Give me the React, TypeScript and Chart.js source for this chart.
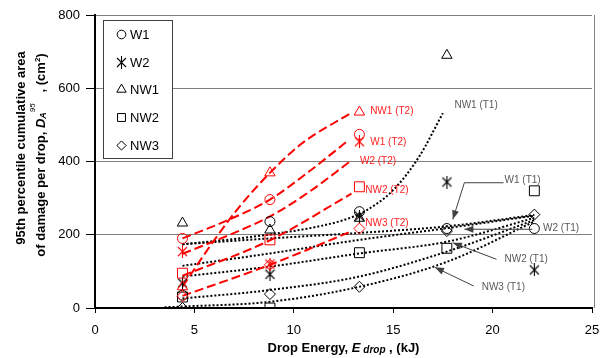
import React, { useEffect, useRef } from 'react';
import { Chart, registerables } from 'chart.js';
import { drawPoint } from 'chart.js/helpers';

Chart.register(...registerables);

const FONT = "'Liberation Sans', Arial, Helvetica, sans-serif";

// Drop energies (kJ)
const energyT1 = [4.4, 8.8, 13.3, 17.7, 22.1];
const energyT2 = [4.4, 8.8, 13.3];

// Measured values, T1 (black markers), cm²
const w1T1 = [35, 236, 263, 217, 217];
const w2T1 = [68, 92, 251, 344, 104];
const nw1T1: (number | null)[] = [232, 213, 245, 690, null];
const nw2T1 = [30, 0, 151, 163, 320];
const nw3T1 = [0, 38, 58, 210, 255];

// Measured values, T2 (red markers), cm²
const w1T2 = [190, 296, 474];
const w2T2 = [154, 120, 454];
const nw1T2 = [58, 369, 535];
const nw2T2 = [95, 186, 331];
const nw3T2 = [32, 118, 217];

// Trend curves, T1 (black dotted)
const curveNW1T1X = [4.4, 6.6, 9.2, 11, 12.5, 13.5, 15, 16.3, 17.5];
const curveNW1T1Y = [174, 186, 204, 220, 240, 262, 322, 413, 532];
const curveAX = [4.4, 8.8, 13.3, 17.7, 22.1];
const curveAY = [174, 190, 205, 223, 254];
const curveBX = [4.4, 8.8, 13.3, 17.7, 22.1];
const curveBY = [115, 149, 186, 218, 252];
const curveCX = [4.4, 8.8, 13.3, 17.7, 22.1];
const curveCY = [86, 113, 149, 181, 246];
const curveDX = [4.4, 8.8, 13.3, 17.7, 22.1];
const curveDY = [26, 49, 86, 154, 240];
const curveEX = [3.5, 4.4, 8.8, 13.3, 17.7, 22.1];
const curveEY = [2, 4, 17, 58, 126, 236];

// Trend curves, T2 (red dashed)
const curveNW1T2X = [4.4, 5.8, 7.2, 8.8, 10.4, 12.8];
const curveNW1T2Y = [58, 170, 272, 369, 449, 530];
const curveW1T2X = [4.4, 6.6, 8.8, 10.75, 12.75];
const curveW1T2Y = [190, 238, 296, 372, 458];
const curveW2T2X = [4.4, 6.6, 8.8, 10.8, 12.8];
const curveW2T2Y = [148, 196, 250, 318, 399];
const curveNW2T2X = [4.4, 8.8, 12.9];
const curveNW2T2Y = [88, 185, 312];
const curveNW3T2X = [4.4, 8.8, 12.85];
const curveNW3T2Y = [33, 118, 208];

// Curve labels (data coordinates)
const labelsT2 = ['NW1 (T2)', 'W1 (T2)', 'W2 (T2)', 'NW2 (T2)', 'NW3 (T2)'];
const labelsT2X = [13.84, 13.85, 13.33, 13.6, 13.6];
const labelsT2Y = [537, 453, 402, 322, 232];
const labelsT1 = ['NW1 (T1)', 'W1 (T1)', 'W2 (T1)', 'NW2 (T1)', 'NW3 (T1)'];
const labelsT1X = [18.08, 20.6, 22.54, 20.6, 19.45];
const labelsT1Y = [554, 349, 219, 134, 58];

// Arrow paths (data coordinates), last point = arrow tip
const arrowW1 = [[20.55, 342], [18.58, 342], [18.0, 242]];
const arrowW2 = [[22.0, 215], [18.58, 215]];
const arrowNW2 = [[20.2, 133], [18.0, 178]];
const arrowNW3 = [[19.05, 60], [17.1, 111]];

const legendLabels = ['W1', 'W2', 'NW1', 'NW2', 'NW3'];

function makeStar(color: string) {
  const c = document.createElement('canvas');
  c.width = 13;
  c.height = 13;
  const g = c.getContext('2d')!;
  g.strokeStyle = color;
  g.lineWidth = 1.1;
  g.beginPath();
  g.moveTo(6.5, 0);
  g.lineTo(6.5, 13);
  g.moveTo(2, 2);
  g.lineTo(11, 11);
  g.moveTo(11, 2);
  g.lineTo(2, 11);
  g.stroke();
  return c;
}

type Seg = { t: string; font: string; dy?: number };

function drawRich(ctx: CanvasRenderingContext2D, segs: Seg[], cx: number, baseline: number) {
  let total = 0;
  const widths = segs.map((s) => {
    ctx.font = s.font;
    const w = ctx.measureText(s.t).width;
    total += w;
    return w;
  });
  let x = cx - total / 2;
  segs.forEach((s, i) => {
    ctx.font = s.font;
    ctx.fillText(s.t, x, baseline + (s.dy || 0));
    x += widths[i];
  });
}

export default function App() {
  const ref = useRef<HTMLCanvasElement>(null);

  useEffect(() => {
    const canvas = ref.current!;
    const starBlack = makeStar('#000000');
    const starRed = makeStar('#ff0000');

    const pts = (xs: number[], ys: (number | null)[]) =>
      xs.map((x, i) => ({ x, y: ys[i] })).filter((p) => p.y !== null);

    const marker = (label: string, xs: number[], ys: (number | null)[], color: string, style: any, radius: number) => ({
      label,
      data: pts(xs, ys),
      showLine: false,
      pointStyle: style,
      pointRadius: radius,
      pointHoverRadius: radius,
      pointBorderColor: color,
      pointBackgroundColor: 'rgba(0,0,0,0)',
      pointBorderWidth: 1,
      borderColor: color,
      backgroundColor: 'rgba(0,0,0,0)',
    });

    const curve = (label: string, xs: number[], ys: number[], color: string, dash: number[]) => ({
      label,
      data: pts(xs, ys),
      showLine: true,
      pointRadius: 0,
      pointHoverRadius: 0,
      borderColor: color,
      borderWidth: 2,
      borderDash: dash,
      cubicInterpolationMode: 'monotone',
      fill: false,
    });

    const RED = '#ff0000';
    const BLK = '#000000';
    const DOT = [2, 2];
    const DASH = [9, 4];

    const datasets: any[] = [
      marker('W1 (T2)', energyT2, w1T2, RED, 'circle', 5),
      marker('W2 (T2)', energyT2, w2T2, RED, starRed, 6),
      marker('NW1 (T2)', energyT2, nw1T2, RED, 'triangle', 6),
      marker('NW2 (T2)', energyT2, nw2T2, RED, 'rect', 7),
      marker('NW3 (T2)', energyT2, nw3T2, RED, 'rectRot', 5.5),
      marker('W1', energyT1, w1T1, BLK, 'circle', 5),
      marker('W2', energyT1, w2T1, BLK, starBlack, 6),
      marker('NW1', energyT1, nw1T1, BLK, 'triangle', 6),
      marker('NW2', energyT1, nw2T1, BLK, 'rect', 7),
      marker('NW3', energyT1, nw3T1, BLK, 'rectRot', 5.5),
      curve('NW1 (T2) fit', curveNW1T2X, curveNW1T2Y, RED, DASH),
      curve('W1 (T2) fit', curveW1T2X, curveW1T2Y, RED, DASH),
      curve('W2 (T2) fit', curveW2T2X, curveW2T2Y, RED, DASH),
      curve('NW2 (T2) fit', curveNW2T2X, curveNW2T2Y, RED, DASH),
      curve('NW3 (T2) fit', curveNW3T2X, curveNW3T2Y, RED, DASH),
      curve('NW1 (T1) fit', curveNW1T1X, curveNW1T1Y, BLK, DOT),
      curve('T1 fit A', curveAX, curveAY, BLK, DOT),
      curve('T1 fit B', curveBX, curveBY, BLK, DOT),
      curve('T1 fit C', curveCX, curveCY, BLK, DOT),
      curve('T1 fit D', curveDX, curveDY, BLK, DOT),
      curve('T1 fit E', curveEX, curveEY, BLK, DOT),
    ];

    const legendStyles: any[] = [
      { style: 'circle', r: 4.3 },
      { style: starBlack, r: 5 },
      { style: 'triangle', r: 5.4 },
      { style: 'rect', r: 5.6 },
      { style: 'rectRot', r: 4.6 },
    ];

    const overlay = {
      id: 'overlay',
      afterDraw(chart: any) {
        const ctx: CanvasRenderingContext2D = chart.ctx;
        const { left, right, top, bottom } = chart.chartArea;
        const xs = chart.scales.x;
        const ys = chart.scales.y;
        const X = (v: number) => xs.getPixelForValue(v);
        const Y = (v: number) => ys.getPixelForValue(v);
        ctx.save();

        // right frame line
        ctx.strokeStyle = '#808080';
        ctx.lineWidth = 1;
        ctx.beginPath();
        ctx.moveTo(Math.round(right) + 2.5, top);
        ctx.lineTo(Math.round(right) + 2.5, bottom);
        ctx.stroke();

        // curve labels
        ctx.textBaseline = 'middle';
        ctx.textAlign = 'left';
        ctx.font = `10px ${FONT}`;
        ctx.fillStyle = '#ff2020';
        labelsT2.forEach((t, i) => ctx.fillText(t, X(labelsT2X[i]), Y(labelsT2Y[i])));
        ctx.fillStyle = '#595959';
        labelsT1.forEach((t, i) => ctx.fillText(t, X(labelsT1X[i]), Y(labelsT1Y[i])));

        // arrows
        const drawArrow = (path: number[][]) => {
          const p = path.map(([a, b]) => [X(a), Y(b)]);
          ctx.strokeStyle = '#404040';
          ctx.fillStyle = '#404040';
          ctx.lineWidth = 1;
          ctx.beginPath();
          ctx.moveTo(p[0][0], p[0][1]);
          for (let i = 1; i < p.length; i++) ctx.lineTo(p[i][0], p[i][1]);
          ctx.stroke();
          const [tx, ty] = p[p.length - 1];
          const [sx, sy] = p[p.length - 2];
          const ang = Math.atan2(ty - sy, tx - sx);
          const L = 9;
          const W = 3.5;
          ctx.beginPath();
          ctx.moveTo(tx, ty);
          ctx.lineTo(tx - L * Math.cos(ang) + W * Math.sin(ang), ty - L * Math.sin(ang) - W * Math.cos(ang));
          ctx.lineTo(tx - L * Math.cos(ang) - W * Math.sin(ang), ty - L * Math.sin(ang) + W * Math.cos(ang));
          ctx.closePath();
          ctx.fill();
        };
        [arrowW1, arrowW2, arrowNW2, arrowNW3].forEach(drawArrow);

        // legend box
        const bx = left + 8;
        const by = top + 5;
        ctx.fillStyle = '#ffffff';
        ctx.fillRect(bx, by, 69, 138);
        ctx.strokeStyle = '#404040';
        ctx.lineWidth = 1;
        ctx.strokeRect(Math.round(bx) + 0.5, Math.round(by) + 0.5, 69, 138);
        legendLabels.forEach((lab, i) => {
          const cy = Math.round(by + 14 + i * 27.7) + 0.5;
          const mx = Math.round(bx + 17.5) + 0.5;
          ctx.strokeStyle = '#000';
          ctx.fillStyle = 'rgba(0,0,0,0)';
          ctx.lineWidth = 1;
          drawPoint(ctx, { pointStyle: legendStyles[i].style, radius: legendStyles[i].r, borderWidth: 1, rotation: 0 } as any, mx, cy);
          ctx.fillStyle = '#000';
          ctx.font = `13px ${FONT}`;
          ctx.textBaseline = 'middle';
          ctx.textAlign = 'left';
          ctx.fillText(lab, bx + 27, cy + 0.5);
        });

        // axis titles
        ctx.fillStyle = '#000';
        ctx.textAlign = 'left';
        ctx.textBaseline = 'alphabetic';
        const B = `bold 13px ${FONT}`;
        const BI = `italic bold 13px ${FONT}`;
        drawRich(ctx, [
          { t: 'Drop Energy, ', font: B },
          { t: 'E', font: BI },
          { t: ' drop', font: `italic bold 10px ${FONT}`, dy: 1.5 },
          { t: ' , (kJ)', font: B },
        ], (left + right) / 2, 351.5);

        ctx.save();
        ctx.translate(25, 148);
        ctx.rotate(-Math.PI / 2);
        drawRich(ctx, [{ t: '95th percentile cumulative area', font: B }], 0, 0);
        ctx.restore();

        ctx.save();
        ctx.translate(44.5, 155);
        ctx.rotate(-Math.PI / 2);
        drawRich(ctx, [
          { t: 'of damage per drop, ', font: B },
          { t: 'D', font: BI },
          { t: 'A', font: `italic bold 9px ${FONT}`, dy: 1.5 },
          { t: '95', font: `italic 8px ${FONT}`, dy: -10 },
          { t: '   , (cm', font: B },
          { t: '2', font: `bold 8px ${FONT}`, dy: -5 },
          { t: ')', font: B },
        ], 0, 0);
        ctx.restore();

        ctx.restore();
      },
    };

    const chart = new Chart(canvas, {
      type: 'scatter',
      data: { datasets },
      options: {
        responsive: false,
        animation: false,
        devicePixelRatio: 1,
        layout: { padding: { top: 15, right: 5, left: 0, bottom: 0 } },
        plugins: { legend: { display: false }, tooltip: { enabled: false } },
        events: [],
        scales: {
          x: {
            type: 'linear',
            min: 0,
            max: 25,
            ticks: { stepSize: 5, color: '#000', font: { family: FONT, size: 13 }, padding: 10, maxRotation: 0 },
            grid: { drawOnChartArea: false, tickLength: 5, tickColor: '#000', color: '#000' },
            border: { color: '#000', width: 2 },
            afterFit(s: any) {
              s.height = 50;
              s.paddingLeft = 0;
              s.paddingRight = 0;
            },
          },
          y: {
            type: 'linear',
            min: 0,
            max: 800,
            ticks: { stepSize: 200, color: '#000', font: { family: FONT, size: 13 }, padding: 6 },
            grid: {
              tickLength: 9,
              tickColor: '#000',
              lineWidth: 1,
              color: (c: any) => (c.tick && c.tick.value === 0 ? 'rgba(0,0,0,0)' : '#808080'),
            },
            border: { color: '#000', width: 2 },
            afterFit(s: any) {
              s.width = 95;
              s.paddingTop = 0;
              s.paddingBottom = 0;
            },
          },
        },
      } as any,
      plugins: [overlay],
    });

    return () => chart.destroy();
  }, []);

  return (
    <div style={{ position: 'fixed', left: 0, top: 0, width: 615, height: 358, background: '#fff' }}>
      <canvas ref={ref} width={600} height={358} style={{ display: 'block', width: 600, height: 358 }} />
    </div>
  );
}
